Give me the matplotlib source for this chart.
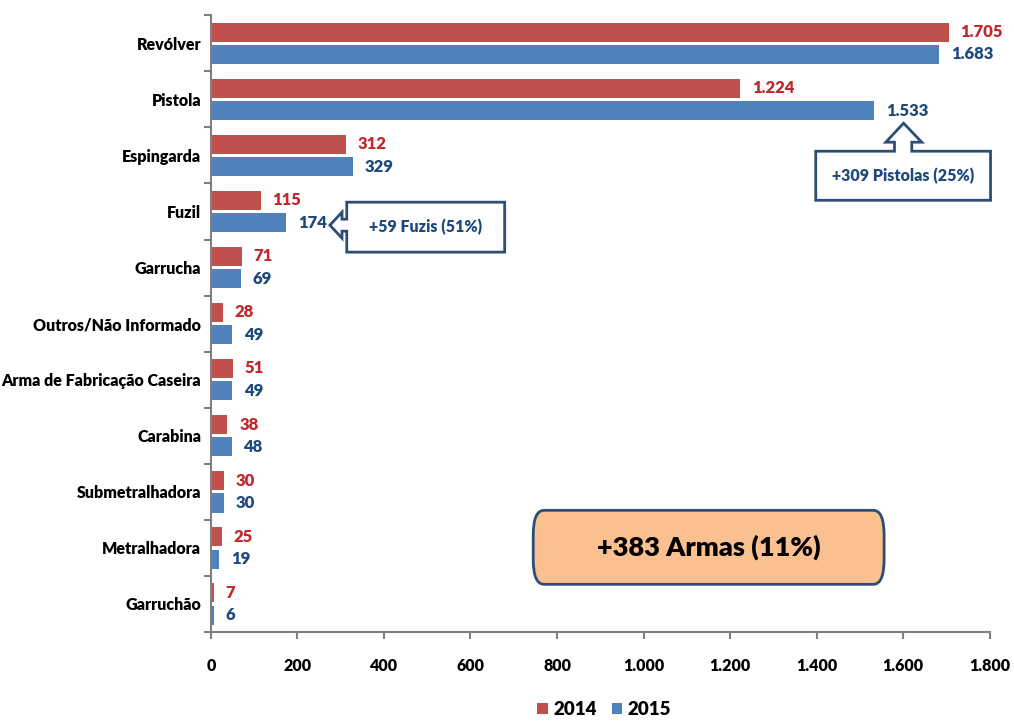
import matplotlib
matplotlib.use("Agg")
import matplotlib.pyplot as plt
from matplotlib.patches import Polygon, FancyBboxPatch
from matplotlib.ticker import FuncFormatter, MultipleLocator, FixedLocator
import numpy as np

categories = ['Revólver', 'Pistola', 'Espingarda', 'Fuzil', 'Garrucha', 'Outros/Não Informado',
              'Arma de Fabricação Caseira', 'Carabina', 'Submetralhadora', 'Metralhadora', 'Garruchão']
values_2014 = [1705, 1224, 312, 115, 71, 28, 51, 38, 30, 25, 7]
values_2015 = [1683, 1533, 329, 174, 69, 49, 49, 48, 30, 19, 6]
series_labels = ['2014', '2015']

W = 'heavy'
plt.rcParams['font.family'] = ['Lato', 'DejaVu Sans']
plt.rcParams['font.weight'] = W

RED = '#C0504D'
BLUE = '#4F81BD'
RED_TXT = '#C0282D'
BLUE_TXT = '#1F497D'
EDGE = '#2C4D75'


def br(v):
	# thousands separator in Portuguese style
	return '{:,.0f}'.format(v).replace(',', '.')


def main():
	fig = plt.figure(figsize=(10.14, 7.26), dpi=100)
	ax = fig.add_axes([0.208, 0.1295, 0.768, 0.8495])

	y = np.arange(len(categories))
	h = 0.34
	ax.barh(y - 0.2, values_2014, height=h, color=RED, label=series_labels[0])
	ax.barh(y + 0.2, values_2015, height=h, color=BLUE, label=series_labels[1])

	for yi, v in zip(y, values_2014):
		ax.annotate(br(v), (v, yi - 0.2), xytext=(8.5, 0), textcoords='offset points',
					va='center', ha='left', color=RED_TXT, fontsize=12, fontweight=W)
	for yi, v in zip(y, values_2015):
		ax.annotate(br(v), (v, yi + 0.2), xytext=(8.5, 0), textcoords='offset points',
					va='center', ha='left', color=BLUE_TXT, fontsize=12, fontweight=W)

	ax.set_xlim(0, 1800)
	ax.set_ylim(len(categories) - 0.5, -0.5)
	ax.xaxis.set_major_locator(MultipleLocator(200))
	ax.xaxis.set_major_formatter(FuncFormatter(lambda v, p: br(v)))
	ax.set_yticks(y)
	ax.set_yticklabels(categories)
	ax.yaxis.set_minor_locator(FixedLocator(np.arange(-0.5, len(categories), 1)))
	ax.tick_params(axis='y', which='major', length=0, pad=7, labelsize=11.5)
	ax.tick_params(axis='y', which='minor', length=5, width=1.5, color='#808080', direction='out')
	ax.tick_params(axis='x', which='major', length=5, width=1.5, color='#808080', pad=14, labelsize=11.5)
	for lbl in ax.get_xticklabels() + ax.get_yticklabels():
		lbl.set_fontweight(W)

	for s in ['top', 'right']:
		ax.spines[s].set_visible(False)
	for s in ['left', 'bottom']:
		ax.spines[s].set_color('#808080')
		ax.spines[s].set_linewidth(1.5)

	# callout for Pistola (arrow pointing up)
	pist = [(1398, 2.80), (1398, 1.925), (1580, 1.925), (1580, 1.764), (1560, 1.764), (1601, 1.425),
			(1643, 1.764), (1620, 1.764), (1620, 1.925), (1802, 1.925), (1802, 2.80)]
	ax.add_patch(Polygon(pist, closed=True, facecolor='white', edgecolor=EDGE, lw=2, clip_on=False, zorder=5))
	ax.text(1600, 2.36, '+309 Pistolas (25%)', ha='center', va='center', color=BLUE_TXT,
			fontsize=11.5, fontweight=W, zorder=6)

	# callout for Fuzil (arrow pointing left)
	fuz = [(314, 2.834), (679, 2.834), (679, 3.725), (314, 3.725), (314, 3.351), (303, 3.351), (303, 3.476),
		   (275, 3.244), (303, 3.012), (303, 3.137), (314, 3.137)]
	ax.add_patch(Polygon(fuz, closed=True, facecolor='white', edgecolor=EDGE, lw=2, zorder=5))
	ax.text(496, 3.28, '+59 Fuzis (51%)', ha='center', va='center', color=BLUE_TXT,
			fontsize=11.5, fontweight=W, zorder=6)

	# total box
	box = FancyBboxPatch((745, 8.33), 811, 1.32, boxstyle='round,pad=0,rounding_size=25',
						 mutation_aspect=0.0178,
						 facecolor='#FAC090', edgecolor=EDGE, lw=2, zorder=5)
	ax.add_patch(box)
	ax.text(1150, 8.98, '+383 Armas (11%)', ha='center', va='center', color='black',
			fontsize=19.5, fontweight=W, zorder=6)

	fig.legend(loc='lower center', bbox_to_anchor=(0.596, -0.012), ncol=2, frameon=False,
			   handlelength=0.55, handleheight=0.55, handletextpad=0.3, columnspacing=0.8,
			   prop={'weight': W, 'size': 13.5})

	fig.savefig('out.png', dpi=100)


if __name__ == '__main__':
	main()
